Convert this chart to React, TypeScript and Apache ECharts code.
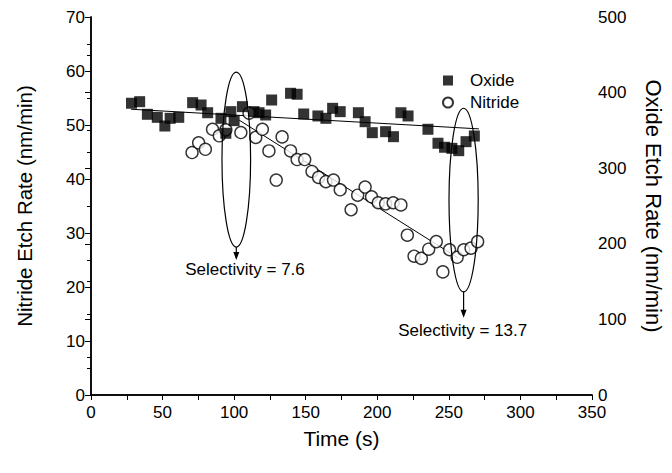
import React, { useEffect, useRef } from "react";
import * as echarts from "echarts";

// Oxide etch rate (right axis, nm/min)
const oxideTime = [28.3, 34.0, 39.4, 46.3, 51.6, 55.3, 61.3, 71.0, 76.9, 81.5, 90.8, 94.2, 97.7, 100.0, 105.8, 113.9, 117.4, 122.0, 126.2, 139.4, 144.0, 148.6, 158.5, 164.1, 168.8, 174.1, 186.8, 191.5, 196.5, 205.8, 211.3, 216.5, 221.5, 235.4, 242.4, 247.0, 252.1, 256.9, 262.0, 267.8];
const oxideRate = [385.9, 388.0, 371.3, 367.3, 355.8, 366.0, 367.3, 386.7, 383.6, 373.4, 366.0, 346.2, 374.8, 362.9, 381.4, 374.8, 373.4, 370.4, 390.2, 399.1, 397.8, 371.7, 369.1, 366.0, 379.2, 374.8, 373.4, 361.5, 347.0, 348.3, 341.7, 373.4, 369.1, 351.5, 333.0, 327.7, 326.3, 323.2, 335.1, 342.6];

// Nitride etch rate (left axis, nm/min)
const nitrideTime = [70.6, 75.2, 79.9, 84.9, 89.6, 94.2, 104.7, 110.4, 115.1, 119.7, 124.3, 129.4, 133.5, 139.4, 144.0, 149.3, 154.4, 159.0, 164.1, 169.4, 174.1, 181.7, 186.3, 191.5, 196.0, 200.7, 205.8, 211.1, 216.5, 221.0, 225.7, 230.8, 235.9, 241.2, 245.8, 250.5, 255.8, 260.4, 265.5, 270.1];
const nitrideRate = [44.9, 46.7, 45.5, 49.2, 48.0, 49.1, 48.6, 52.2, 47.7, 49.2, 45.2, 39.8, 47.8, 45.2, 43.6, 43.6, 41.4, 40.3, 39.5, 39.8, 38.0, 34.3, 37.0, 38.5, 36.7, 35.6, 35.4, 35.6, 35.2, 29.6, 25.7, 25.3, 27.0, 28.4, 22.8, 26.9, 25.5, 26.9, 27.2, 28.4];

// Fit lines
const oxideFitTime = [28, 271];
const oxideFitRate = [378, 352];
const nitrideFitTime = [103.5, 256.3];
const nitrideFitRate = [50.9, 25.4];

// Annotations (time, nitride-axis units)
const annoLabels = ["Selectivity = 7.6", "Selectivity = 13.7"];
const annoX = [101.5, 260.3];
const annoHalfWidth = [10, 10.2];
const annoTop = [59.8, 53.1];
const annoBottom = [27.4, 19.1];
const annoArrowTip = [25.0, 14.3];
const annoLabelX = [107.6, 259.7];
const annoLabelY = [23.2, 11.9];

const FONT = "Liberation Sans, Arial, sans-serif";

export default function App() {
  const ref = useRef<HTMLDivElement>(null);
  useEffect(() => {
    if (!ref.current) return;
    const chart = echarts.init(ref.current, undefined, { renderer: "svg" });
    const axisLine = { show: true, lineStyle: { color: "#000", width: 1.5 } };
    const option: any = {
      animation: false,
      backgroundColor: "#fff",
      grid: { left: 91, right: 77, top: 17, bottom: 78 },
      legend: {
        orient: "vertical",
        left: 437,
        top: 67,
        itemWidth: 10,
        itemHeight: 10,
        itemGap: 5,
        textStyle: { fontFamily: FONT, fontSize: 17, color: "#000", padding: [0, 0, 0, 12] },
        data: [
          { name: "Oxide", icon: "rect" },
          { name: "Nitride", icon: "circle" },
        ],
      },
      xAxis: [
        {
          type: "value",
          min: 0,
          max: 350,
          interval: 50,
          position: "bottom",
          name: "Time (s)",
          nameLocation: "middle",
          nameGap: 33,
          nameTextStyle: { fontFamily: FONT, fontSize: 21, color: "#000" },
          axisLine,
          axisTick: { show: true, inside: false, length: 5, lineStyle: { color: "#000" } },
          minorTick: { show: true, splitNumber: 2, length: 4, lineStyle: { color: "#000" } },
          axisLabel: { fontFamily: FONT, fontSize: 17, color: "#000", margin: 9 },
          splitLine: { show: false },
        },
        {
          type: "value",
          min: 0,
          max: 350,
          interval: 25,
          position: "top",
          axisLine,
          axisTick: { show: true, inside: true, length: 5, lineStyle: { color: "#000" } },
          axisLabel: { show: false },
          splitLine: { show: false },
        },
      ],
      yAxis: [
        {
          type: "value",
          min: 0,
          max: 70,
          interval: 10,
          position: "left",
          name: "Nitride Etch Rate (nm/min)",
          nameLocation: "middle",
          nameRotate: 90,
          nameGap: 56,
          nameTextStyle: { fontFamily: FONT, fontSize: 20.5, color: "#000" },
          axisLine,
          axisTick: { show: true, inside: false, length: 6, lineStyle: { color: "#000" } },
          minorTick: { show: true, splitNumber: 2, length: 4, lineStyle: { color: "#000" } },
          axisLabel: { fontFamily: FONT, fontSize: 17, color: "#000", margin: 6 },
          splitLine: { show: false },
        },
        {
          type: "value",
          min: 0,
          max: 500,
          interval: 100,
          position: "right",
          name: "Oxide Etch Rate (nm/min)",
          nameLocation: "middle",
          nameRotate: -90,
          nameGap: 50,
          nameTextStyle: { fontFamily: FONT, fontSize: 22, color: "#000" },
          axisLine,
          axisTick: { show: true, inside: true, length: 6, lineStyle: { color: "#000" } },
          minorTick: { show: true, splitNumber: 2, length: 4, lineStyle: { color: "#000" } },
          axisLabel: { fontFamily: FONT, fontSize: 17, color: "#000", margin: 6 },
          splitLine: { show: false },
        },
      ],
      series: [
        {
          name: "Oxide Fit",
          type: "line",
          yAxisIndex: 1,
          symbol: "none",
          lineStyle: { color: "#000", width: 1 },
          data: oxideFitTime.map((t, i) => [t, oxideFitRate[i]]),
          z: 1,
        },
        {
          name: "Nitride Fit",
          type: "line",
          yAxisIndex: 0,
          symbol: "none",
          lineStyle: { color: "#000", width: 1 },
          data: nitrideFitTime.map((t, i) => [t, nitrideFitRate[i]]),
          z: 1,
        },
        {
          name: "Nitride",
          type: "scatter",
          yAxisIndex: 0,
          symbol: "circle",
          symbolSize: 12,
          itemStyle: { color: "#fff", borderColor: "#000", borderWidth: 1.4 },
          data: nitrideTime.map((t, i) => [t, nitrideRate[i]]),
          z: 3,
        },
        {
          name: "Oxide",
          type: "scatter",
          yAxisIndex: 1,
          symbol: "rect",
          symbolSize: 11,
          itemStyle: { color: "#000" },
          data: oxideTime.map((t, i) => [t, oxideRate[i]]),
          z: 4,
        },
      ],
    };
    chart.setOption(option);

    const px = (x: number, y: number) =>
      chart.convertToPixel({ xAxisIndex: 0, yAxisIndex: 0 }, [x, y]) as number[];
    const graphics: any[] = [];
    annoLabels.forEach((label, i) => {
      const top = px(annoX[i], annoTop[i]);
      const bot = px(annoX[i], annoBottom[i]);
      const side = px(annoX[i] + annoHalfWidth[i], annoTop[i]);
      const tip = px(annoX[i], annoArrowTip[i]);
      const lab = px(annoLabelX[i], annoLabelY[i]);
      const cx = top[0];
      const cy = (top[1] + bot[1]) / 2;
      graphics.push({
        type: "ellipse",
        shape: { cx, cy, rx: side[0] - cx, ry: (bot[1] - top[1]) / 2 },
        style: { fill: "none", stroke: "#000", lineWidth: 1.2 },
        z: 10,
      });
      graphics.push({
        type: "line",
        shape: { x1: cx, y1: bot[1], x2: cx, y2: tip[1] - 2 },
        style: { stroke: "#000", lineWidth: 1.2 },
        z: 10,
      });
      graphics.push({
        type: "polygon",
        shape: { points: [[cx - 3, tip[1] - 8], [cx + 3, tip[1] - 8], [cx, tip[1]]] },
        style: { fill: "#000" },
        z: 10,
      });
      graphics.push({
        type: "text",
        x: lab[0],
        y: lab[1],
        style: {
          text: label,
          fontFamily: FONT,
          fontSize: 17,
          fill: "#000",
          align: "center",
          verticalAlign: "middle",
        },
        z: 10,
      });
    });
    chart.setOption({ graphic: graphics });

    return () => chart.dispose();
  }, []);
  return <div ref={ref} style={{ width: 672, height: 473, position: "absolute", left: 0, top: 0 }} />;
}
